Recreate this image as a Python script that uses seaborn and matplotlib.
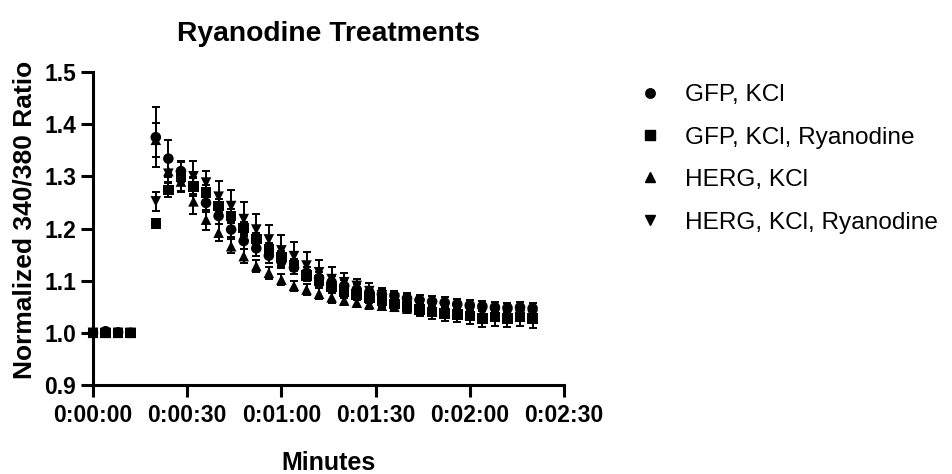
import numpy as np
import pandas as pd
import matplotlib
matplotlib.use("Agg")
import matplotlib.pyplot as plt
from matplotlib.ticker import FuncFormatter
from matplotlib.lines import Line2D
import seaborn as sns

# ---------------- data ----------------
time_s = [0, 4, 8, 12, 20, 24, 28, 32, 36, 40, 44, 48, 52, 56, 60, 64, 68, 72,
          76, 80, 84, 88, 92, 96, 100, 104, 108, 112, 116, 120, 124, 128, 132, 136, 140]

gfp_kcl = [1.000, 1.003, 1.001, 1.000, 1.375, 1.334, 1.310, 1.280, 1.249, 1.224,
           1.198, 1.176, 1.162, 1.148, 1.137, 1.125, 1.115, 1.105, 1.097, 1.090,
           1.083, 1.078, 1.074, 1.071, 1.066, 1.063, 1.060, 1.058, 1.055, 1.053,
           1.051, 1.049, 1.048, 1.049, 1.047]
gfp_kcl_err = [0.002, 0.002, 0.002, 0.002, 0.057, 0.036, 0.020, 0.018, 0.018, 0.016,
               0.015, 0.015, 0.014, 0.014, 0.013, 0.013, 0.012, 0.012, 0.012, 0.011,
               0.011, 0.010, 0.010, 0.010, 0.010, 0.010, 0.010, 0.010, 0.010, 0.010,
               0.010, 0.010, 0.010, 0.010, 0.010]

gfp_kcl_rya = [1.000, 1.000, 1.000, 1.000, 1.210, 1.274, 1.300, 1.281, 1.269, 1.243,
               1.224, 1.201, 1.180, 1.160, 1.145, 1.130, 1.110, 1.100, 1.088, 1.078,
               1.074, 1.068, 1.062, 1.055, 1.050, 1.045, 1.040, 1.037, 1.035, 1.032,
               1.028, 1.030, 1.028, 1.030, 1.028]
gfp_kcl_rya_err = [0.002, 0.002, 0.002, 0.002, 0.006, 0.014, 0.030, 0.015, 0.014, 0.013,
                   0.013, 0.012, 0.012, 0.012, 0.012, 0.012, 0.011, 0.011, 0.011, 0.011,
                   0.011, 0.011, 0.012, 0.012, 0.012, 0.013, 0.013, 0.014, 0.015, 0.015,
                   0.016, 0.016, 0.017, 0.017, 0.018]

herg_kcl = [1.000, 1.000, 1.000, 1.000, 1.370, 1.310, 1.290, 1.252, 1.217, 1.192,
            1.166, 1.147, 1.128, 1.115, 1.102, 1.090, 1.083, 1.075, 1.068, 1.062,
            1.058, 1.055, 1.052, 1.050, 1.047, 1.045, 1.042, 1.040, 1.038, 1.036,
            1.035, 1.034, 1.033, 1.032, 1.032]
herg_kcl_err = [0.002, 0.002, 0.002, 0.002, 0.032, 0.020, 0.018, 0.025, 0.019, 0.016,
                0.013, 0.013, 0.012, 0.011, 0.010, 0.010, 0.010, 0.010, 0.010, 0.009,
                0.009, 0.009, 0.009, 0.009, 0.009, 0.009, 0.009, 0.009, 0.009, 0.009,
                0.009, 0.009, 0.009, 0.009, 0.009]

herg_kcl_rya = [1.000, 1.000, 1.000, 1.000, 1.252, 1.305, 1.300, 1.300, 1.288, 1.261,
                1.243, 1.218, 1.198, 1.179, 1.158, 1.147, 1.129, 1.116, 1.103, 1.097,
                1.090, 1.080, 1.072, 1.066, 1.060, 1.055, 1.050, 1.047, 1.043, 1.040,
                1.038, 1.036, 1.035, 1.034, 1.033]
herg_kcl_rya_err = [0.002, 0.002, 0.002, 0.002, 0.018, 0.030, 0.028, 0.029, 0.023, 0.030,
                    0.031, 0.033, 0.029, 0.027, 0.029, 0.027, 0.026, 0.024, 0.023, 0.017,
                    0.014, 0.015, 0.014, 0.012, 0.012, 0.011, 0.010, 0.010, 0.010, 0.010,
                    0.010, 0.010, 0.010, 0.010, 0.010]

series_names = ["GFP, KCl", "GFP, KCl, Ryanodine", "HERG, KCl", "HERG, KCl, Ryanodine"]
series_vals = [gfp_kcl, gfp_kcl_rya, herg_kcl, herg_kcl_rya]
series_errs = [gfp_kcl_err, gfp_kcl_rya_err, herg_kcl_err, herg_kcl_rya_err]
marker_map = {"GFP, KCl": "o", "GFP, KCl, Ryanodine": "s",
              "HERG, KCl": "^", "HERG, KCl, Ryanodine": "v"}

x_ticks = [0, 30, 60, 90, 120, 150]
y_ticks = [0.9, 1.0, 1.1, 1.2, 1.3, 1.4, 1.5]

rows = []
for name, vals, errs in zip(series_names, series_vals, series_errs):
    for t, v, e in zip(time_s, vals, errs):
        rows.append({"time": t, "value": v, "sem": e, "group": name})
df = pd.DataFrame(rows)

# ---------------- plot ----------------
sns.set_theme(style="ticks")
plt.rcParams["font.family"] = ["Liberation Sans", "DejaVu Sans"]
plt.rcParams["text.color"] = "black"
plt.rcParams["axes.labelcolor"] = "black"
plt.rcParams["xtick.color"] = "black"
plt.rcParams["ytick.color"] = "black"

W, H = 953, 474
fig = plt.figure(figsize=(W / 100, H / 100), dpi=100)
ax = fig.add_axes([93 / W, (H - 385) / H, 471 / W, 313 / H])

for name in series_names:
    sub = df[df["group"] == name]
    ax.errorbar(sub["time"], sub["value"], yerr=sub["sem"], fmt="none",
                ecolor="black", elinewidth=1.4, capsize=3.2, capthick=1.4, zorder=2)

sns.scatterplot(data=df, x="time", y="value", style="group", markers=marker_map,
                color="black", s=58, edgecolor="black", linewidth=0, ax=ax,
                legend=False, zorder=3, clip_on=False)

ax.set_xlim(0, 150)
ax.set_ylim(0.9, 1.5)
ax.set_xticks(x_ticks)
ax.set_yticks(y_ticks)


def fmt_time(v, pos):
    v = int(round(v))
    return f"{v // 3600}:{(v % 3600) // 60:02d}:{v % 60:02d}"


ax.xaxis.set_major_formatter(FuncFormatter(fmt_time))
ax.yaxis.set_major_formatter(FuncFormatter(lambda v, p: f"{v:.1f}"))

for side in ["top", "right"]:
    ax.spines[side].set_visible(False)
for side in ["left", "bottom"]:
    ax.spines[side].set_linewidth(2.2)
    ax.spines[side].set_color("black")
    ax.spines[side].set_capstyle("projecting")
ax.tick_params(axis="x", length=8.8, width=2.2, labelsize=16.5, pad=5)
ax.tick_params(axis="y", length=9.0, width=2.2, labelsize=16.5, pad=3)
for lbl in ax.get_xticklabels() + ax.get_yticklabels():
    lbl.set_fontweight("bold")

ax.set_xlabel("Minutes", fontsize=18, fontweight="bold", labelpad=17)
ax.set_ylabel("Normalized 340/380 Ratio", fontsize=19, fontweight="bold")
ax.yaxis.set_label_coords(-0.119, 0.527)
ax.set_title("Ryanodine Treatments", fontsize=20.3, fontweight="bold", pad=22)

# legend (placed in pixel positions like the reference)
leg_rows_y = [92.5, 135, 177.5, 220]
leg_fs = 17.6
em = leg_fs * 100 / 72
for name, ry in zip(series_names, leg_rows_y):
    fig.add_artist(Line2D([650 / W], [1 - ry / H], transform=fig.transFigure,
                          linestyle="none", marker=marker_map[name], color="black",
                          markersize=6.8))
    fig.text(685 / W, 1 - (ry + 0.358 * em) / H, name, fontsize=leg_fs,
             ha="left", va="baseline", color="black")

fig.savefig("out.png", dpi=100)
